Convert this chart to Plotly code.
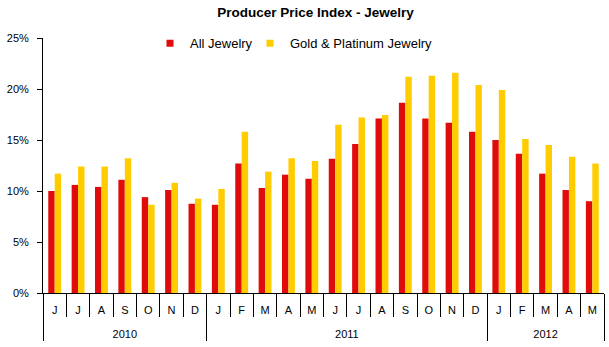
import plotly.graph_objects as go

periods = ["Jun 2010", "Jul 2010", "Aug 2010", "Sep 2010", "Oct 2010", "Nov 2010", "Dec 2010",
           "Jan 2011", "Feb 2011", "Mar 2011", "Apr 2011", "May 2011", "Jun 2011", "Jul 2011",
           "Aug 2011", "Sep 2011", "Oct 2011", "Nov 2011", "Dec 2011",
           "Jan 2012", "Feb 2012", "Mar 2012", "Apr 2012", "May 2012"]
month_labels = ["J", "J", "A", "S", "O", "N", "D",
                "J", "F", "M", "A", "M", "J", "J", "A", "S", "O", "N", "D",
                "J", "F", "M", "A", "M"]
year_labels = ["2010", "2011", "2012"]
months_per_year = [7, 12, 5]

all_jewelry = [10.0, 10.6, 10.4, 11.1, 9.4, 10.1, 8.75,
               8.65, 12.7, 10.3, 11.6, 11.2, 13.15, 14.6, 17.1, 18.65, 17.1, 16.7, 15.8,
               15.0, 13.65, 11.7, 10.1, 9.0]
gold_platinum = [11.7, 12.4, 12.4, 13.2, 8.65, 10.8, 9.25,
                 10.2, 15.8, 11.9, 13.2, 12.95, 16.5, 17.2, 17.45, 21.2, 21.3, 21.6, 20.4,
                 19.9, 15.1, 14.5, 13.35, 12.7]

series = [("All Jewelry", all_jewelry, "#E00B0B", "legend"),
          ("Gold & Platinum Jewelry", gold_platinum, "#FFCC00", "legend2")]

# year group boundaries and centres in category units
bounds = [-0.5]
for n in months_per_year:
    bounds.append(bounds[-1] + n)
year_centres = [(bounds[i] + bounds[i + 1]) / 2 for i in range(len(year_labels))]
month_bounds = [i - 0.5 for i in range(len(periods) + 1)]
x_range = [-0.5, len(periods) - 0.5]

fig = go.Figure()
for name, values, color, legend_id in series:
    fig.add_trace(go.Bar(x=periods, y=[v / 100 for v in values], name=name,
                         marker=dict(color=color, line=dict(width=0)),
                         legendgroup=name, showlegend=False))
    # small square legend key
    fig.add_trace(go.Scatter(x=[None], y=[None], name=name, mode="markers",
                             marker=dict(symbol="square", size=7, color=color),
                             legendgroup=name, legend=legend_id))

# invisible helper traces to bind the extra axes
fig.add_trace(go.Scatter(x=x_range, y=[0, 0], xaxis="x2", mode="none",
                         showlegend=False, hoverinfo="skip"))
fig.add_trace(go.Scatter(x=x_range, y=[0, 0], xaxis="x3", mode="none",
                         showlegend=False, hoverinfo="skip"))

plot_w = 609 - 43 - 5
legend_common = dict(orientation="h", xanchor="left", y=1.038, yanchor="top",
                     bgcolor="rgba(0,0,0,0)", font=dict(size=13), itemwidth=30,
                     tracegroupgap=0)

fig.update_layout(
    width=609, height=347,
    margin=dict(l=43, r=5, t=38, b=54),
    paper_bgcolor="white", plot_bgcolor="white",
    font=dict(family="Liberation Sans, Arial, sans-serif", size=11, color="black"),
    title=dict(text="<b>Producer Price Index - Jewelry</b>", x=315.5 / 609, xanchor="center",
               y=0.965, yanchor="middle", font=dict(size=13.5)),
    barmode="group", bargap=0.45, bargroupgap=0,
    showlegend=True,
    legend=dict(x=(150 - 43) / plot_w, **legend_common),
    legend2=dict(x=(250 - 43) / plot_w, **legend_common),
    xaxis=dict(type="category", range=x_range, tickmode="array", tickvals=periods,
               ticktext=month_labels, showline=True, linecolor="black", linewidth=1,
               ticks="", showgrid=False, ticklabelstandoff=7, automargin=False,
               tickfont=dict(size=11)),
    xaxis2=dict(type="linear", overlaying="x", anchor="y", side="bottom", range=x_range,
                tickmode="array", tickvals=bounds, ticks="outside", ticklen=47,
                tickcolor="black", tickwidth=1, showticklabels=False, showgrid=False,
                zeroline=False, showline=False, automargin=False,
                minor=dict(tickmode="array", tickvals=month_bounds, ticks="outside",
                           ticklen=23, tickcolor="black", tickwidth=1, showgrid=False)),
    xaxis3=dict(type="linear", overlaying="x", anchor="y", side="bottom", range=x_range,
                tickmode="array", tickvals=year_centres, ticktext=year_labels, ticks="",
                ticklabelstandoff=33, showgrid=False, zeroline=False, showline=False,
                automargin=False, tickfont=dict(size=11)),
    yaxis=dict(range=[0, 0.25], dtick=0.05, tickformat=".0%", showline=True,
               linecolor="black", linewidth=1, ticks="outside", ticklen=5,
               tickcolor="black", showgrid=False, zeroline=False, automargin=False,
               ticklabelstandoff=6, tickfont=dict(size=11)),
)

fig.write_html("out.html")
